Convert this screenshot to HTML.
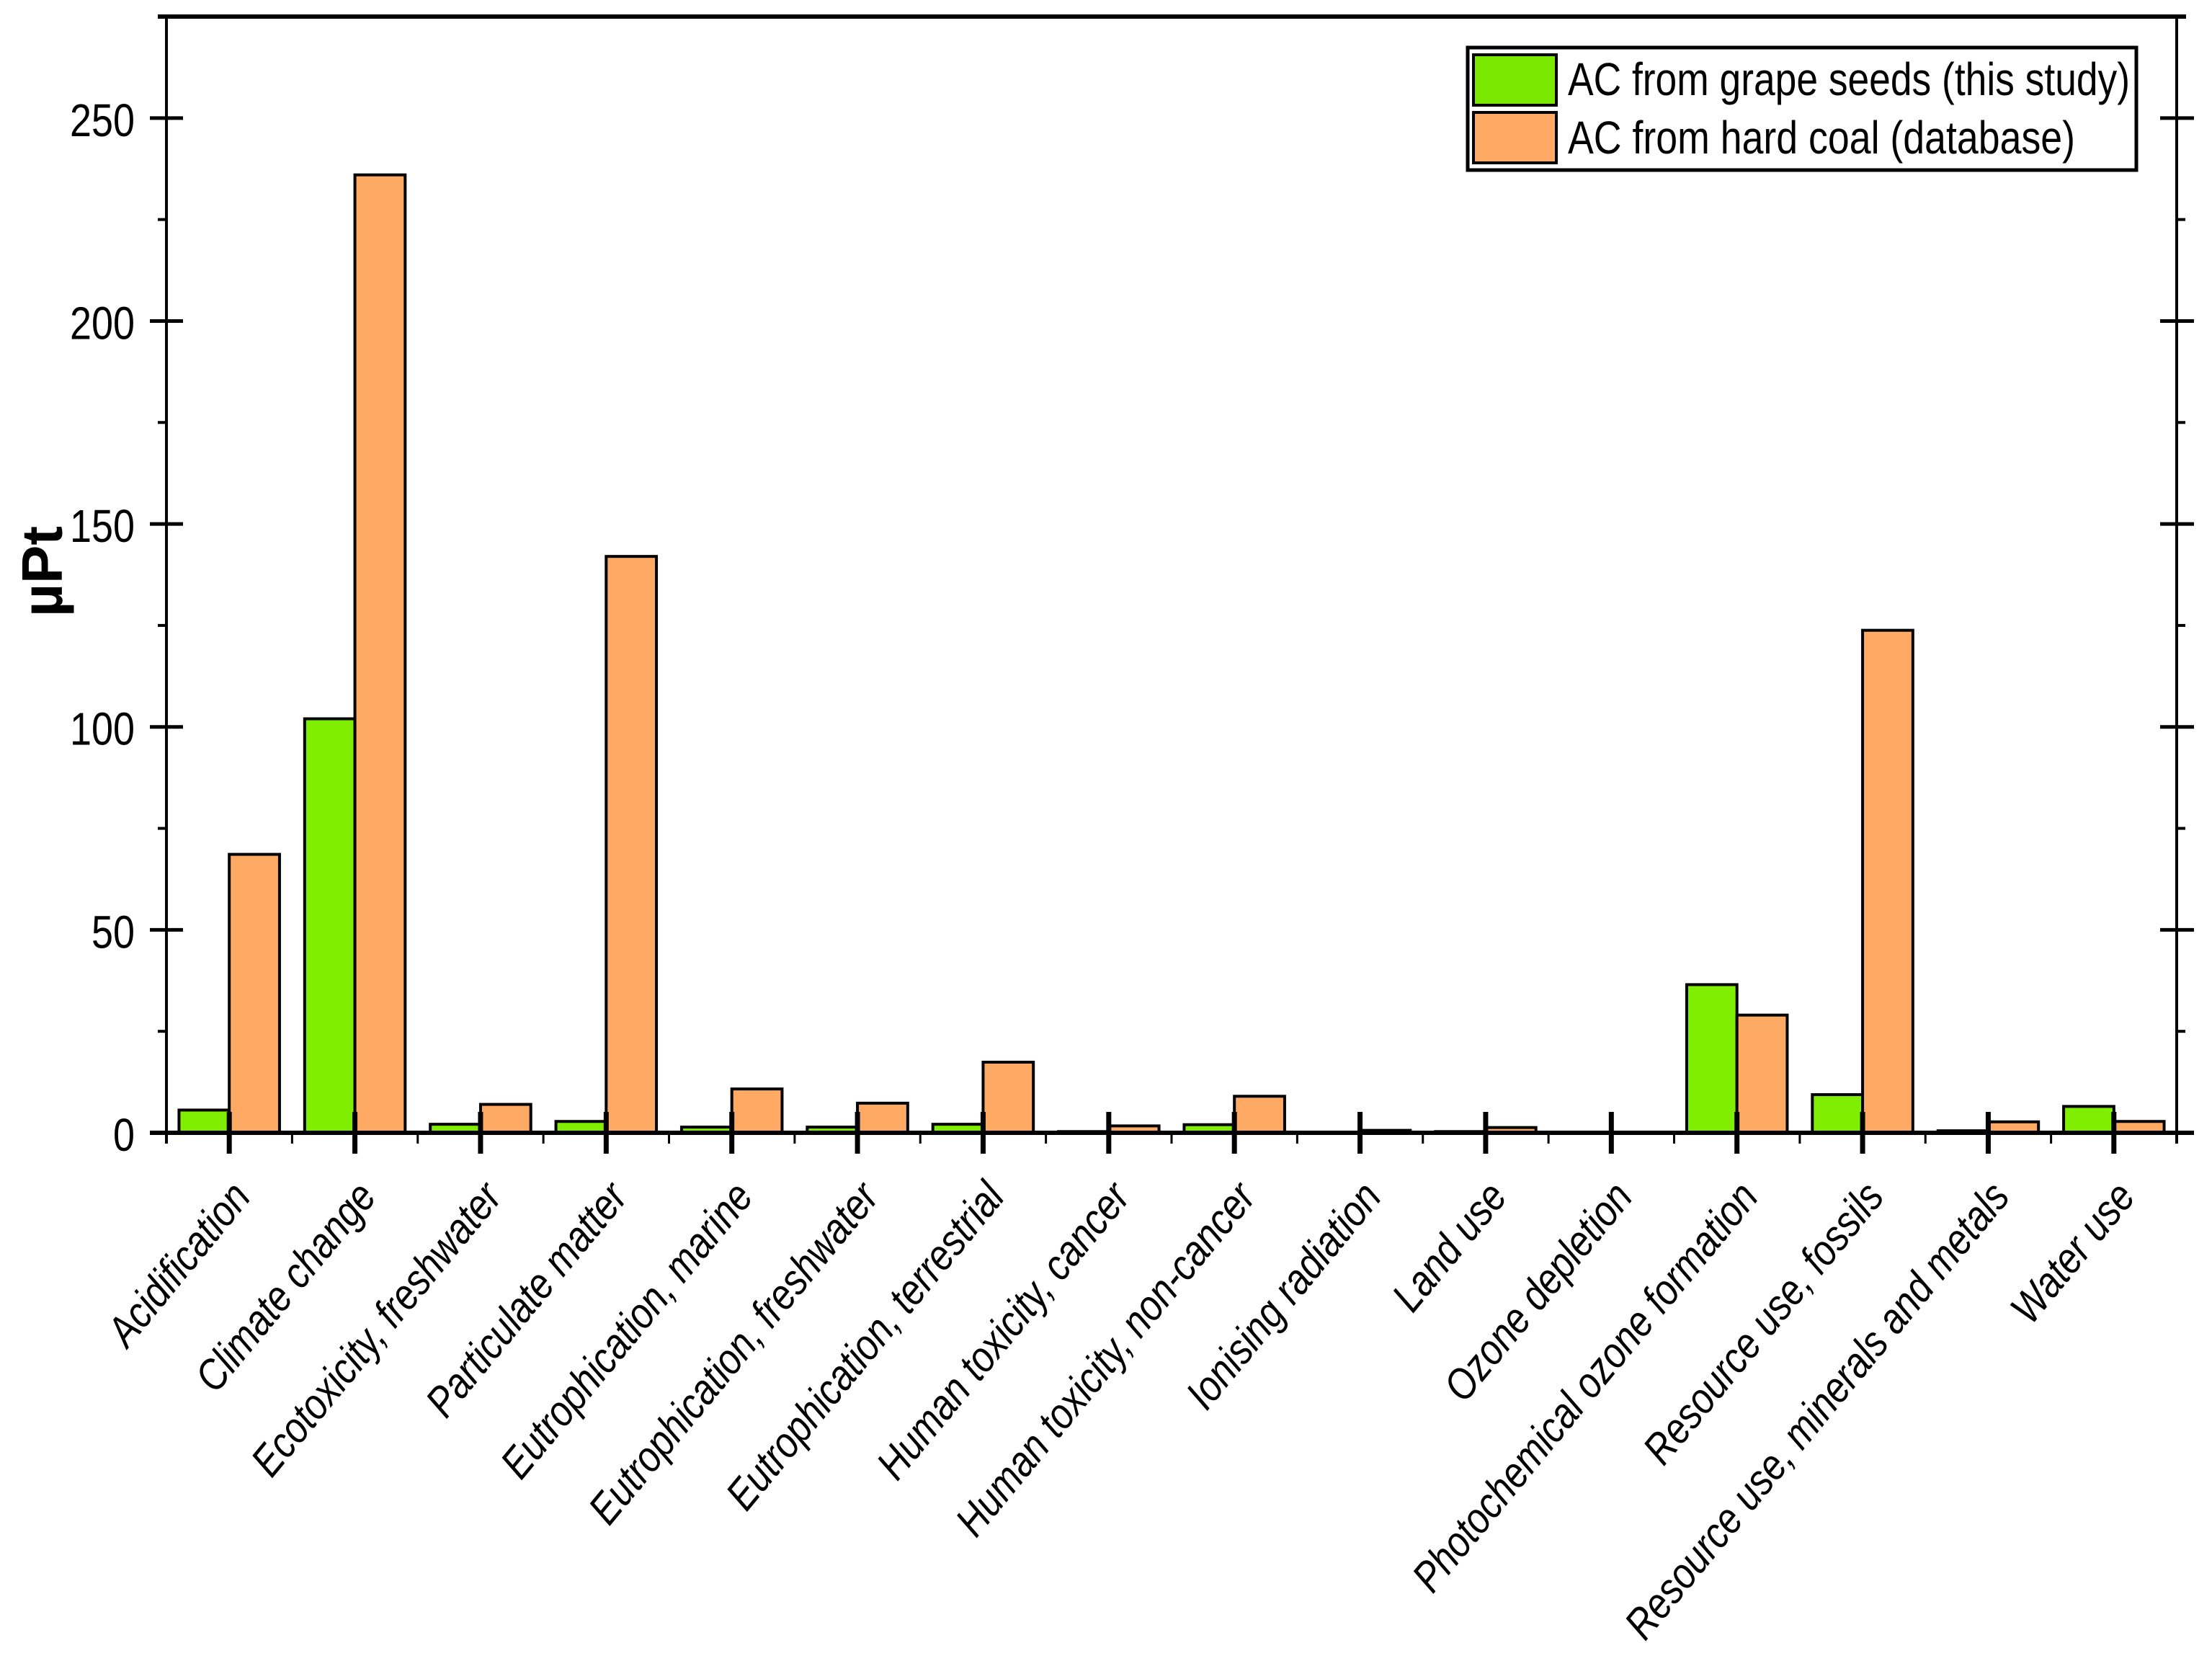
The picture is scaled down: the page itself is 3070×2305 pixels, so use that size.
<!DOCTYPE html>
<html><head><meta charset="utf-8"><style>
html,body{margin:0;padding:0;background:#fff;}
svg{display:block;}
.tick{font-family:"Liberation Sans Narrow","Liberation Sans",sans-serif;font-size:64px;fill:#000;}
.xl{font-family:"Liberation Sans",sans-serif;font-size:60px;font-style:italic;fill:#000;}
</style></head><body>
<svg id="chart" width="3070" height="2305" viewBox="0 0 3070 2305" xmlns="http://www.w3.org/2000/svg">
<rect width="3070" height="2305" fill="#fff"/>
<g id="bars"></g>
<g id="axes"></g>
<text transform="translate(86,793) rotate(-90)" text-anchor="middle" font-family="Liberation Sans, sans-serif" font-size="80" font-weight="bold">µPt</text>
<g>
<rect x="2037" y="66" width="928" height="170" fill="#fff" stroke="#000" stroke-width="5"/>
<rect x="2045" y="76" width="115" height="70" fill="#7be800" stroke="#000" stroke-width="4"/>
<rect x="2045" y="156" width="115" height="70" fill="#ffaa64" stroke="#000" stroke-width="4"/>
<text x="2176" y="132" class="tick" font-size="64" textLength="780" lengthAdjust="spacingAndGlyphs">AC from grape seeds (this study)</text>
<text x="2176" y="213" class="tick" font-size="64" textLength="704" lengthAdjust="spacingAndGlyphs">AC from hard coal (database)</text>
</g>
</svg>
<script>
const categories = ["Acidification","Climate change","Ecotoxicity, freshwater","Particulate matter","Eutrophication, marine","Eutrophication, freshwater","Eutrophication, terrestrial","Human toxicity, cancer","Human toxicity, non-cancer","Ionising radiation","Land use","Ozone depletion","Photochemical ozone formation","Resource use, fossils","Resource use, minerals and metals","Water use"];
const grapeSeeds = [5.6,102,2.1,2.8,1.4,1.4,2.1,0.3,2.0,0.1,0.3,0,36.5,9.4,0.5,6.5];
const hardCoal = [68.6,236,7.0,142,10.8,7.3,17.4,1.7,9.0,0.6,1.3,0,29,123.8,2.7,2.8];
const yTicks = [0,50,100,150,200,250];
const yMinorTicks = [25,75,125,175,225,275];

const NS="http://www.w3.org/2000/svg";
const L=231,R=3021,T=23,B=1572,YMAX=275;
const step=(R-L)/categories.length;
const y=v=>B-(v/YMAX)*(B-T);
const xc=i=>L+(i+0.5)*step;
const bw=step*0.4;
function mk(tag,attrs,parent){const e=document.createElementNS(NS,tag);for(const k in attrs)e.setAttribute(k,attrs[k]);parent.appendChild(e);return e;}
const bars=document.getElementById('bars'),axes=document.getElementById('axes');
categories.forEach((c,i)=>{
  const g=y(grapeSeeds[i]);
  const r1=mk('rect',{x:xc(i)-bw,y:g,width:bw,height:B-g,fill:'#80ee00',stroke:'#000','stroke-width':4},bars);
  
  
  const h=y(hardCoal[i]);
  const r2=mk('rect',{x:xc(i),y:h,width:bw,height:B-h,fill:'#ffaa64',stroke:'#000','stroke-width':4},bars);
  
  
  const t=mk('text',{class:'xl','text-anchor':'end',transform:`translate(${xc(i)+32},1662) rotate(-50.5) scale(0.85,1)`},axes);
  t.textContent=c;
  
  
  mk('line',{x1:xc(i),x2:xc(i),y1:1543,y2:1601,stroke:'#000','stroke-width':7},axes);
  mk('line',{x1:L+i*step,x2:L+i*step,y1:B,y2:1587,stroke:'#000','stroke-width':3},axes);
});
mk('line',{x1:R,x2:R,y1:B,y2:1587,stroke:'#000','stroke-width':3},axes);
mk('line',{x1:L,x2:L,y1:T,y2:1587,stroke:'#000','stroke-width':4},axes);
mk('line',{x1:R,x2:R,y1:T,y2:1587,stroke:'#000','stroke-width':4},axes);
mk('line',{x1:219,x2:3034,y1:T,y2:T,stroke:'#000','stroke-width':6},axes);
mk('line',{x1:208,x2:3045,y1:B,y2:B,stroke:'#000','stroke-width':6},axes);
yTicks.forEach(v=>{
  mk('line',{x1:208,x2:254,y1:y(v),y2:y(v),stroke:'#000','stroke-width':5},axes);
  mk('line',{x1:2998,x2:3045,y1:y(v),y2:y(v),stroke:'#000','stroke-width':5},axes);
  const s=String(v);
  const t=mk('text',{class:'tick',x:187,y:y(v)+25,'text-anchor':'end','font-size':76,textLength:s.length*30,lengthAdjust:'spacingAndGlyphs'},axes);
  t.textContent=s;
  
  
});
yMinorTicks.forEach(v=>{
  mk('line',{x1:219,x2:L,y1:y(v),y2:y(v),stroke:'#000','stroke-width':4},axes);
  mk('line',{x1:R,x2:3033,y1:y(v),y2:y(v),stroke:'#000','stroke-width':4},axes);
});
</script>
</body></html>
